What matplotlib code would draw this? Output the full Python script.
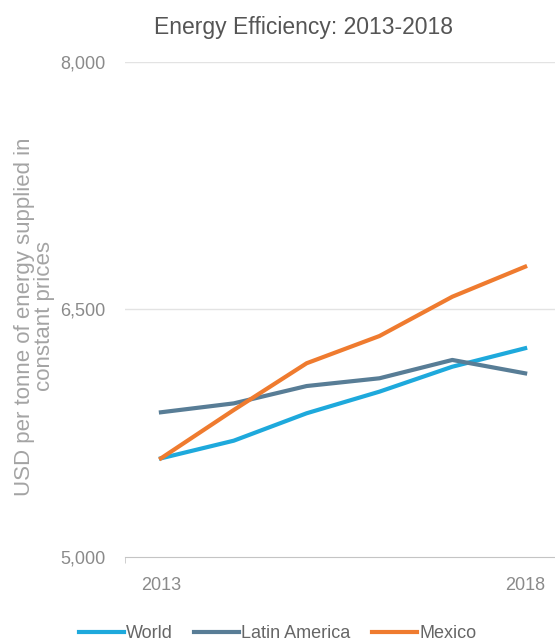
import matplotlib
matplotlib.use("Agg")
import matplotlib.pyplot as plt

# data
years = [2013, 2014, 2015, 2016, 2017, 2018]
world = [5598, 5705, 5871, 6002, 6153, 6265]
latin_america = [5877, 5931, 6036, 6083, 6194, 6113]
mexico = [5598, 5891, 6174, 6339, 6577, 6759]

y_ticks = [5000, 6500, 8000]
x_ticks = [2013, 2018]

font = ['Liberation Sans', 'DejaVu Sans']
grey = '#8a8a8a'

fig = plt.figure(figsize=(5.55, 6.44), dpi=100)
ax = fig.add_axes([0.225, 0.135, 0.775, 0.769])

ax.plot(years, world, color='#1ea9dc', linewidth=3, label='World')
ax.plot(years, latin_america, color='#587d96', linewidth=3, label='Latin America')
ax.plot(years, mexico, color='#ef7b2f', linewidth=3, label='Mexico')

ax.set_xlim(2012.505, 2018.41)
ax.set_ylim(5000, 8000)
ax.set_yticks(y_ticks)
ax.set_yticklabels([f"{v:,}" for v in y_ticks], family=font, fontsize=13, color=grey)
ax.set_xticks(x_ticks)
ax.set_xticklabels([str(v) for v in x_ticks], family=font, fontsize=13, color=grey)
ax.tick_params(axis='y', length=0, pad=14)
ax.tick_params(axis='x', length=0, pad=14)
# small edge tick on the baseline
ax.set_xticks([2012.505], minor=True)
ax.tick_params(axis='x', which='minor', length=4, color='#c8c8c8')

# grid and spines
for v in y_ticks[1:]:
    ax.axhline(v, color='#e3e3e3', linewidth=1, zorder=0)
for s in ['top', 'right', 'left']:
    ax.spines[s].set_visible(False)
ax.spines['bottom'].set_color('#c4c4c4')

ax.set_ylabel("USD per tonne of energy supplied in\nconstant prices",
              family=font, fontsize=16, color='#a4a4a4', linespacing=0.95)
ax.yaxis.set_label_coords(-0.162, 0.486)

fig.text(0.546, 0.958, "Energy Efficiency: 2013-2018", family=font,
         fontsize=16.5, color='#555555', ha='center', va='center')

fig.legend(loc='center', bbox_to_anchor=(0.5, 0.016), ncol=3, frameon=False,
           prop={'family': font, 'size': 13}, labelcolor='#666666',
           handlelength=2.5, handletextpad=0.1, columnspacing=1.2)

plt.savefig("out.png", dpi=100)
